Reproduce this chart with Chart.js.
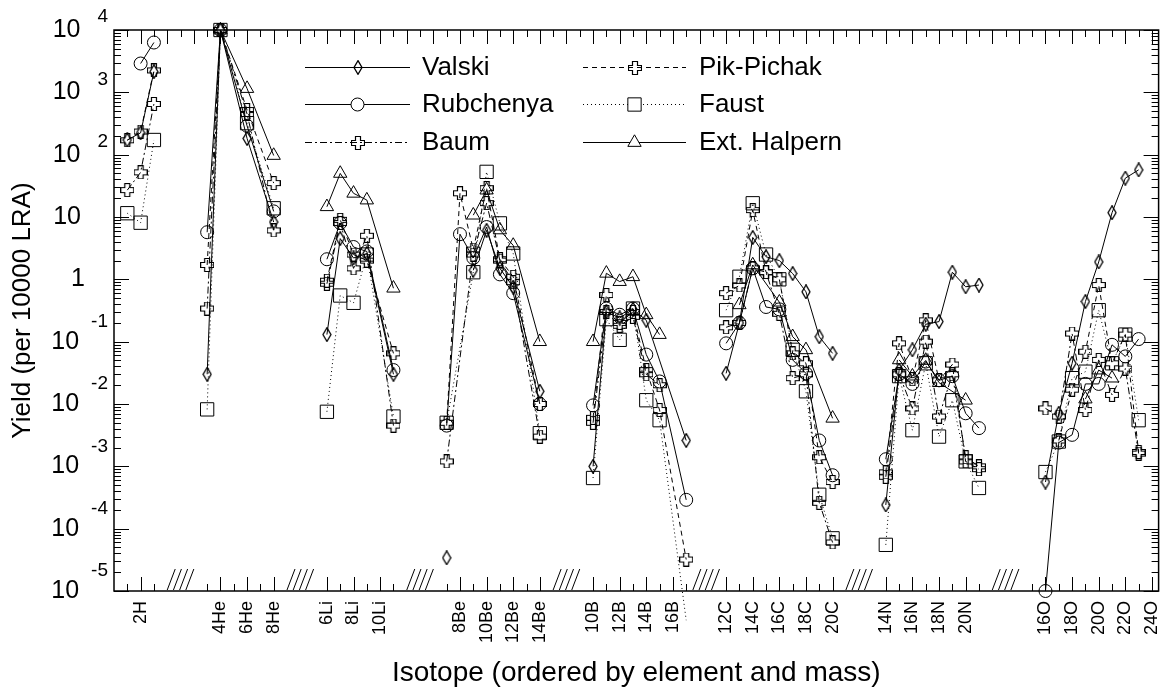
<!DOCTYPE html>
<html>
<head>
<meta charset="utf-8">
<script src="https://cdn.jsdelivr.net/npm/chart.js@4/dist/chart.umd.min.js"></script>
<style>
  html, body { margin: 0; padding: 0; background: #fff; }
  canvas { display: block; }
</style>
</head>
<body>
<canvas id="yields" width="1169" height="687"></canvas>
<script>
// isotopes in axis order, '' = hatched break between two elements
const isotopes = ['1H','2H','3H','','','','3He','4He','5He','6He','7He','8He','','','',
  '6Li','7Li','8Li','9Li','10Li','11Li','','','',
  '7Be','8Be','9Be','10Be','11Be','12Be','13Be','14Be','','','',
  '10B','11B','12B','13B','14B','15B','16B','17B','','',
  '12C','13C','14C','15C','16C','17C','18C','19C','20C','','','',
  '14N','15N','16N','17N','18N','19N','20N','21N','','','',
  '15O','16O','17O','18O','19O','20O','21O','22O','23O','24O'];

const tickLabels = ['2H','4He','6He','8He','6Li','8Li','10Li','8Be','10Be','12Be','14Be',
  '10B','12B','14B','16B','12C','14C','16C','18C','20C','14N','16N','18N','20N',
  '16O','18O','20O','22O','24O'];

const decades = [-5, -4, -3, -2, -1, 0, 1, 2, 3, 4];

// null = no value given, the line breaks there
const valski = [
  ['1H',172],['2H',224],['3H',2140],['3He',0.030],['4He',1e4],['6He',182],['8He',8.3],
  ['6Li',0.13],['7Li',4.5],['8Li',2.2],['9Li',2.6],['11Li',0.030],
  ['7Be',3.4e-5],['8Be',null],['9Be',1.4],['10Be',6.1],['11Be',1.5],['12Be',0.75],['14Be',0.016],
  ['10B',0.0010],['11B',0.30],['12B',0.24],['13B',0.33],['14B',0.22],['17B',0.0026],
  ['12C',0.031],['13C',0.20],['14C',4.7],['15C',2.3],['16C',2.0],['17C',1.24],['18C',0.63],['19C',0.12],['20C',0.065],
  ['14N',2.4e-4],['15N',0.035],['16N',0.074],['17N',0.19],['18N',0.21],['19N',1.3],['20N',0.76],['21N',0.81],
  ['16O',5.6e-4],['17O',0.0071],['18O',0.045],['19O',0.44],['20O',1.9],['21O',11.7],['22O',42],['23O',57]
];

const rubchenya = [
  ['2H',2900],['3H',6300],['3He',5.7],['4He',1e4],['6He',290],['8He',12.3],
  ['6Li',2.1],['7Li',8.0],['8Li',3.3],['9Li',2.8],['11Li',0.035],
  ['7Be',0.0045],['8Be',5.3],['9Be',2.2],['10Be',6.9],['11Be',1.2],['12Be',0.60],['14Be',0.010],
  ['10B',0.0095],['11B',0.34],['12B',0.27],['13B',0.34],['14B',0.062],['15B',0.023],['17B',2.9e-4],
  ['12C',0.094],['13C',0.20],['14C',1.5],['15C',0.36],['16C',0.33],['17C',0.051],['18C',0.031],['19C',0.0026],['20C',7.2e-4],
  ['14N',0.0013],['15N',0.030],['16N',0.021],['17N',0.048],['18N',0.024],['19N',0.028],['20N',0.0071],['21N',0.0041],
  ['16O',1.0e-5],['17O',0.0024],['18O',0.0032],['19O',0.021],['20O',0.021],['21O',0.089],['22O',0.058],['23O',0.11]
];

const baum = [
  ['1H',27],['2H',52],['3H',650],['3He',0.34],['4He',1e4],['6He',450],['8He',6.1],
  ['6Li',0.85],['7Li',8.0],['8Li',1.5],['9Li',5.0],['11Li',0.0045],
  ['7Be',0.0012],['9Be',2.5],['10Be',16.7],['11Be',2.0],['12Be',0.90],['14Be',0.0030],
  ['10B',0.0050],['11B',0.30],['12B',0.18],['13B',0.25],['14B',0.030],['15B',0.020],
  ['12C',0.17],['13C',0.20],['14C',1.5],['15C',1.3],['16C',0.28],['17C',0.026],['18C',0.030],['19C',2.6e-4],['20C',6.0e-5],
  ['14N',6.8e-4],['15N',0.030],['16N',0.0085],['17N',0.10],['18N',0.0063],['19N',0.030],['20N',0.0014],['21N',0.0010],
  ['16O',0.0085],['17O',0.0063],['18O',0.135],['19O',0.0080],['20O',0.051],['21O',0.014],['22O',0.037],['23O',0.0016]
];

const pikPichak = [
  ['1H',170],['2H',235],['3H',2250],['3He',1.7],['4He',1e4],['6He',520],['8He',35],
  ['6Li',0.95],['7Li',9.0],['8Li',2.5],['9Li',2.0],['11Li',0.065],
  ['7Be',0.0050],['8Be',24],['9Be',3.0],['10Be',29],['11Be',2.1],['12Be',1.1],['14Be',0.010],
  ['10B',0.0060],['11B',0.56],['12B',0.20],['13B',0.30],['14B',0.035],['15B',0.0080],['17B',3.2e-5],
  ['12C',0.60],['13C',0.80],['14C',12.9],['15C',1.3],['16C',1.0],['17C',0.065],['18C',0.045],['19C',0.0014],['20C',5.6e-4],
  ['14N',8.0e-4],['15N',0.094],['16N',0.025],['17N',0.22],['18N',0.024],['19N',0.043],['20N',0.0012],['21N',9.0e-4],
  ['17O',0.0026],['18O',0.017],['19O',0.069],['20O',0.81],['21O',0.045],['22O',0.13],['23O',0.0017]
];

const faust = [
  ['1H',11.5],['2H',8.1],['3H',172],['3He',0.0082],['4He',1e4],['6He',320],['8He',13.8],
  ['6Li',0.0075],['7Li',0.55],['8Li',0.42],['9Li',2.5],['11Li',0.0063],
  ['7Be',0.0050],['9Be',1.3],['10Be',53],['11Be',7.9],['12Be',2.6],['14Be',0.0034],
  ['10B',6.5e-4],['11B',0.23],['12B',0.107],['13B',0.34],['14B',0.0115],['15B',0.0055],['17B',3.4e-6],
  ['12C',0.32],['13C',1.1],['14C',16.6],['15C',2.5],['16C',1.0],['17C',0.074],['18C',0.016],['19C',3.5e-4],['20C',7.0e-5],
  ['14N',5.5e-5],['15N',0.028],['16N',0.0038],['17N',0.045],['18N',0.0030],['19N',0.0115],['20N',0.0012],['21N',4.5e-4],
  ['16O',8.1e-4],['17O',0.0025],['18O',0.026],['19O',0.033],['20O',0.32],['21O',0.045],['22O',0.13],['23O',0.0055]
];

const halpern = [
  ['4He',1e4],['6He',1150],['8He',97],
  ['6Li',14.6],['7Li',50],['8Li',24],['9Li',18.7],['11Li',0.72],
  ['9Be',10.7],['10Be',27],['11Be',6.2],['12Be',3.5],['14Be',0.10],
  ['10B',0.10],['11B',1.25],['12B',0.92],['13B',1.1],['14B',0.27],['15B',0.13],
  ['13C',0.39],['14C',1.7],['16C',0.43],['17C',0.12],['18C',0.074],['20C',0.0059],
  ['15N',0.051],['16N',0.028],['17N',0.050],['18N',0.022],['20N',0.0115],
  ['19O',0.012],['20O',0.035],['21O',0.026]
];

const FONT = '"Liberation Sans", Arial, Helvetica, sans-serif';

// open greek cross and tall diamond markers
function crossMarker() {
  const c = document.createElement('canvas');
  c.width = 14; c.height = 14;
  const g = c.getContext('2d');
  const m = 7, a = 2.5, l = 6.5;
  g.beginPath();
  g.moveTo(m - a, m - l); g.lineTo(m + a, m - l); g.lineTo(m + a, m - a); g.lineTo(m + l, m - a);
  g.lineTo(m + l, m + a); g.lineTo(m + a, m + a); g.lineTo(m + a, m + l); g.lineTo(m - a, m + l);
  g.lineTo(m - a, m + a); g.lineTo(m - l, m + a); g.lineTo(m - l, m - a); g.lineTo(m - a, m - a);
  g.closePath();
  g.strokeStyle = '#000'; g.lineWidth = 1.2; g.stroke();
  return c;
}

function diamondMarker() {
  const c = document.createElement('canvas');
  c.width = 10; c.height = 15;
  const g = c.getContext('2d');
  g.beginPath();
  g.moveTo(5, 0.7); g.lineTo(9, 7.5); g.lineTo(5, 14.3); g.lineTo(1, 7.5);
  g.closePath();
  g.strokeStyle = '#000'; g.lineWidth = 1.3; g.stroke();
  return c;
}

const cross = crossMarker();
const diamond = diamondMarker();

// one line per element: a null point breaks the line at each hatched gap
function toPoints(pairs) {
  const pts = [];
  let prev = null;
  pairs.forEach(([iso, v]) => {
    const i = isotopes.indexOf(iso);
    if (prev !== null && isotopes.slice(prev, i).includes('')) {
      pts.push({ x: (prev + i) / 2, y: null });
    }
    pts.push({ x: i, y: v });
    prev = i;
  });
  return pts;
}

function makeSet(label, pairs, marker, radius, dash) {
  return {
    label: label,
    data: toPoints(pairs),
    borderColor: '#000',
    backgroundColor: 'rgba(0,0,0,0)',
    borderWidth: 1,
    borderDash: dash,
    pointStyle: marker,
    pointRadius: radius,
    pointBorderColor: '#000',
    pointBackgroundColor: 'rgba(0,0,0,0)',
    pointBorderWidth: 1,
    tension: 0,
    spanGaps: false,
    clip: false
  };
}

const datasets = [
  makeSet('Valski', valski, diamond, 7, []),
  makeSet('Rubchenya', rubchenya, 'circle', 6.5, []),
  makeSet('Baum', baum, cross, 7, [7, 3, 2, 3]),
  makeSet('Pik-Pichak', pikPichak, cross, 7, [5, 4]),
  makeSet('Faust', faust, 'rect', 9.4, [1, 3]),
  makeSet('Ext. Halpern', halpern, 'triangle', 7.7, [])
];

function drawMarker(ctx, ds, px, py) {
  if (typeof ds.pointStyle === 'object') {
    ctx.drawImage(ds.pointStyle, Math.round(px - ds.pointStyle.width / 2), Math.round(py - ds.pointStyle.height / 2));
    return;
  }
  Chart.helpers.drawPoint(ctx, { pointStyle: ds.pointStyle, radius: ds.pointRadius, borderWidth: 1, rotation: 0 }, px, py);
}

const framePlugin = {
  id: 'frame',
  afterDraw(chart) {
    const { ctx, chartArea: a, scales: { x, y } } = chart;
    ctx.save();
    ctx.strokeStyle = '#000';
    ctx.fillStyle = '#000';
    ctx.setLineDash([]);

    // box
    ctx.lineWidth = 1.5;
    ctx.strokeRect(a.left, a.top, a.right - a.left, a.bottom - a.top);

    // x ticks: tall at even mass, hatched breaks between elements
    ctx.lineWidth = 1;
    ctx.beginPath();
    isotopes.forEach((name, i) => {
      const px = Math.round(x.getPixelForValue(i)) + 0.5;
      const len = i % 2 ? 14 : 7;
      ctx.moveTo(px, a.top); ctx.lineTo(px, a.top + len);
      if (name !== '') { ctx.moveTo(px, a.bottom); ctx.lineTo(px, a.bottom - len); }
    });
    ctx.stroke();

    let i = 0;
    ctx.beginPath();
    while (i < isotopes.length) {
      if (isotopes[i] !== '') { i++; continue; }
      let j = i;
      while (j + 1 < isotopes.length && isotopes[j + 1] === '') j++;
      const c = (i + j) / 2;
      const x0 = x.getPixelForValue(c - 1), x1 = x.getPixelForValue(c + 1);
      const w = 8, step = (x1 - x0 - w) / 3;
      for (let k = 0; k < 4; k++) {
        ctx.moveTo(x0 + k * step, a.bottom - 1);
        ctx.lineTo(x0 + k * step + w, a.bottom - 22);
      }
      i = j + 1;
    }
    ctx.stroke();

    // y ticks, both sides
    ctx.beginPath();
    decades.forEach(e => {
      for (let k = 1; k <= 9; k++) {
        const v = k * Math.pow(10, e);
        if (v > 1e4 * 1.0001) break;
        const py = Math.round(y.getPixelForValue(v)) + 0.5;
        const len = k === 1 ? 15 : 7;
        ctx.moveTo(a.left, py); ctx.lineTo(a.left + len, py);
        ctx.moveTo(a.right, py); ctx.lineTo(a.right - len, py);
      }
    });
    ctx.stroke();

    // y labels: 10 with raised exponent
    ctx.textBaseline = 'middle';
    ctx.textAlign = 'right';
    decades.forEach(e => {
      const py = y.getPixelForValue(Math.pow(10, e));
      if (e === 0 || e === 1) {
        ctx.font = '25px ' + FONT;
        ctx.fillText(e === 0 ? '1' : '10', e === 0 ? 85 : 81, py);
        return;
      }
      const sup = String(e);
      ctx.font = '19px ' + FONT;
      ctx.fillText(sup, 108, py - (e < 0 ? 20 : 13));
      const w = ctx.measureText(sup).width;
      ctx.font = '25px ' + FONT;
      ctx.fillText('10', 108 - w - (e < 0 ? 12 : 17), py);
    });

    // x labels, rotated
    ctx.font = '18px ' + FONT;
    tickLabels.forEach(lbl => {
      const px = x.getPixelForValue(isotopes.indexOf(lbl));
      ctx.save();
      ctx.translate(px, a.bottom + 10);
      ctx.rotate(-Math.PI / 2);
      ctx.textAlign = 'right';
      ctx.textBaseline = 'middle';
      ctx.fillText(lbl, 0, 0);
      ctx.restore();
    });

    // axis titles
    ctx.font = '28px ' + FONT;
    ctx.textAlign = 'center';
    ctx.textBaseline = 'alphabetic';
    ctx.fillText('Isotope (ordered by element and mass)', (a.left + a.right) / 2, 681);
    ctx.save();
    ctx.translate(23, (a.top + a.bottom) / 2);
    ctx.rotate(-Math.PI / 2);
    ctx.font = '26px ' + FONT;
    ctx.textBaseline = 'middle';
    ctx.fillText('Yield (per 10000 LRA)', 0, 0);
    ctx.restore();

    // legend, two columns of three
    const cols = [{ x0: 305, x1: 410, tx: 422 }, { x0: 583, x1: 686, tx: 699 }];
    const rows = [67, 104, 142];
    chart.data.datasets.forEach((ds, n) => {
      const col = cols[Math.floor(n / 3)], ly = rows[n % 3];
      ctx.lineWidth = 1;
      ctx.setLineDash(ds.borderDash);
      ctx.beginPath();
      ctx.moveTo(col.x0, ly + 0.5); ctx.lineTo(col.x1, ly + 0.5);
      ctx.stroke();
      ctx.setLineDash([]);
      ctx.fillStyle = '#fff';
      drawMarker(ctx, ds, (col.x0 + col.x1) / 2, ly + 0.5);
      ctx.fillStyle = '#000';
      ctx.font = '26px ' + FONT;
      ctx.textAlign = 'left';
      ctx.textBaseline = 'middle';
      ctx.fillText(ds.label, col.tx, ly + 1);
    });
    ctx.restore();
  }
};

new Chart(document.getElementById('yields').getContext('2d'), {
  type: 'line',
  data: { datasets: datasets },
  options: {
    responsive: false,
    animation: false,
    events: [],
    layout: { padding: { left: 114, top: 30, right: 9, bottom: 96 } },
    plugins: { legend: { display: false }, tooltip: { enabled: false } },
    scales: {
      x: { type: 'linear', min: -1, max: 77.5, display: false },
      y: { type: 'logarithmic', min: 1e-5, max: 1e4, display: false }
    }
  },
  plugins: [framePlugin]
});
</script>
</body>
</html>
